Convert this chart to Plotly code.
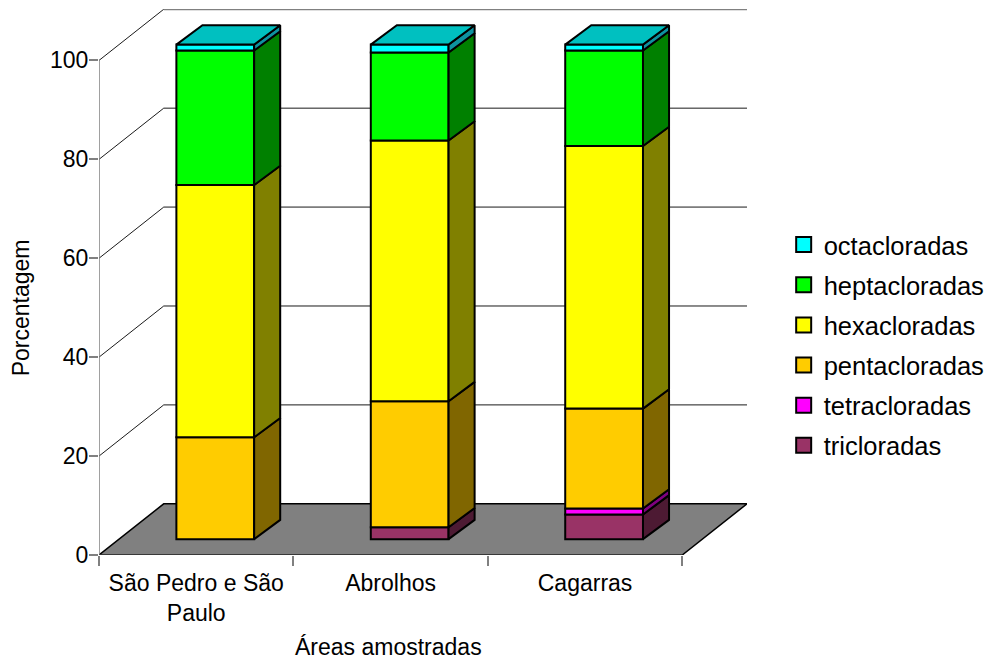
import plotly.graph_objects as go

# Survey areas and PCB homologue shares (percent of total per area)
areas = ["São Pedro e São<br>Paulo", "Abrolhos", "Cagarras"]
tricloradas = [0.0, 2.4, 5.0]
tetracloradas = [0.0, 0.0, 1.2]
pentacloradas = [20.6, 25.5, 20.2]
hexacloradas = [51.0, 52.7, 53.1]
heptacloradas = [27.2, 17.8, 19.3]
octacloradas = [1.2, 1.6, 1.2]

series_names = ["tricloradas", "tetracloradas", "pentacloradas",
                "hexacloradas", "heptacloradas", "octacloradas"]
series_values = [tricloradas, tetracloradas, pentacloradas,
                 hexacloradas, heptacloradas, octacloradas]
front_colors = ["#993366", "#FF00FF", "#FFCC00", "#FFFF00", "#00FF00", "#00FFFF"]
side_colors = ["#4D1A33", "#800080", "#806600", "#808000", "#008000", "#0E93A0"]
top_color = "#00C0C0"

y_ticks = [0, 20, 40, 60, 80, 100]

# Pseudo-3D projection, in axis units
wall_dx, wall_dy = 0.333, 10.35      # floor depth
bar_dx, bar_dy = 0.098, 3.2          # how far bars stand behind the front edge
depth_dx, depth_dy = 0.134, 3.9      # bar depth
bar_width = 0.40
x_max = 3 + wall_dx
y_max = 110.4

fig = go.Figure()


def outline(x, y, color=None, width=1, line="#000000", axes="x", yaxis="y"):
    fig.add_trace(go.Scatter(
        x=x, y=y, mode="lines", xaxis=axes, yaxis=yaxis,
        line=dict(color=line, width=width),
        fill="toself" if color else None, fillcolor=color,
        showlegend=False, hoverinfo="skip", cliponaxis=False))


# Floor, walls and grid
outline([0, wall_dx, x_max, 3, 0], [0, wall_dy, wall_dy, 0, 0], color="#808080", width=1.5)
for v in y_ticks[1:-1]:
    outline([0, wall_dx, x_max], [v, v + wall_dy, v + wall_dy], line="#1a1a1a", width=1)
outline([0, wall_dx], [100, 100 + wall_dy], line="#1a1a1a", width=1)
outline([wall_dx, x_max], [100 + wall_dy, 100 + wall_dy], line="#808080", width=2)
outline([0, 0], [0, 100], line="#808080", width=1.5)
outline([0, 3], [0, 0], line="#404040", width=1.5)

# Stacked bars with their side and top faces
centers = [i + 0.5 + bar_dx for i in range(len(areas))]
running = [bar_dy] * len(areas)
for name, vals, fc, sc in zip(series_names, series_values, front_colors, side_colors):
    side_x, side_y = [], []
    for c, b, v in zip(centers, running, vals):
        if v > 0:
            r = c + bar_width / 2
            side_x += [r, r + depth_dx, r + depth_dx, r, r, None]
            side_y += [b, b + depth_dy, b + v + depth_dy, b + v, b, None]
    outline(side_x, side_y, color=sc, width=2, axes="x2", yaxis="y2")
    fig.add_trace(go.Bar(
        x=centers, y=[v if v > 0 else None for v in vals], base=running,
        width=bar_width, xaxis="x2", yaxis="y2",
        marker=dict(color=fc, line=dict(color="#000000", width=2)),
        showlegend=False, hoverinfo="skip"))
    running = [b + v for b, v in zip(running, vals)]

top_x, top_y = [], []
for c, b in zip(centers, running):
    l, r = c - bar_width / 2, c + bar_width / 2
    top_x += [l, r, r + depth_dx, l + depth_dx, l, None]
    top_y += [b, b, b + depth_dy, b + depth_dy, b, None]
outline(top_x, top_y, color=top_color, width=2, axes="x2", yaxis="y2")

# Legend entries, highest homologue first
for name, fc in zip(series_names[::-1], front_colors[::-1]):
    fig.add_trace(go.Scatter(
        x=[None], y=[None], mode="markers", name=name, legendgroup=name,
        xaxis="x2", yaxis="y2",
        marker=dict(symbol="square", size=15, color=fc, line=dict(color="#000000", width=2))))

font = dict(family="Liberation Sans, Arial, sans-serif", size=23, color="#000000")
fig.update_layout(
    width=987, height=661, autosize=False,
    margin=dict(l=99, r=240, t=9, b=106, pad=0),
    paper_bgcolor="#FFFFFF", plot_bgcolor="#FFFFFF",
    font=font, barmode="overlay",
    xaxis=dict(range=[0, x_max], tickvals=[0, 1, 2, 3], showticklabels=False,
               ticks="outside", ticklen=10, tickcolor="#808080", tickwidth=1.5,
               showgrid=False, zeroline=False, showline=False, fixedrange=True),
    yaxis=dict(range=[0, y_max], tickvals=y_ticks, ticks="outside", ticklen=9,
               tickcolor="#808080", tickwidth=1.5, showgrid=False, zeroline=False,
               showline=False, tickfont=font, ticklabelstandoff=-4, fixedrange=True),
    xaxis2=dict(range=[0, x_max], overlaying="x", anchor="y2",
                tickvals=[i + 0.5 for i in range(len(areas))], ticktext=areas,
                ticks="outside", ticklen=5, tickcolor="rgba(0,0,0,0)", tickwidth=0,
                tickangle=0, tickfont=font, ticklabelstandoff=2,
                showgrid=False, zeroline=False, showline=False, fixedrange=True),
    yaxis2=dict(range=[0, y_max], overlaying="y", anchor="x2", visible=False, fixedrange=True),
    legend=dict(xref="container", yref="container", x=0.794, y=0.478,
                yanchor="middle", xanchor="left",
                traceorder="grouped", tracegroupgap=4,
                font=dict(family=font["family"], size=25.5, color="#000000"),
                bgcolor="rgba(0,0,0,0)", itemwidth=30),
    annotations=[
        dict(text="Áreas amostradas", xref="x", yref="paper", x=1.49, y=-0.169,
             showarrow=False, font=font, xanchor="center", yanchor="middle"),
        dict(text="Porcentagem", xref="paper", yref="y", x=-0.121, y=50, textangle=-90,
             showarrow=False, font=font, xanchor="center", yanchor="middle"),
    ],
)

fig.write_html("out.html")
